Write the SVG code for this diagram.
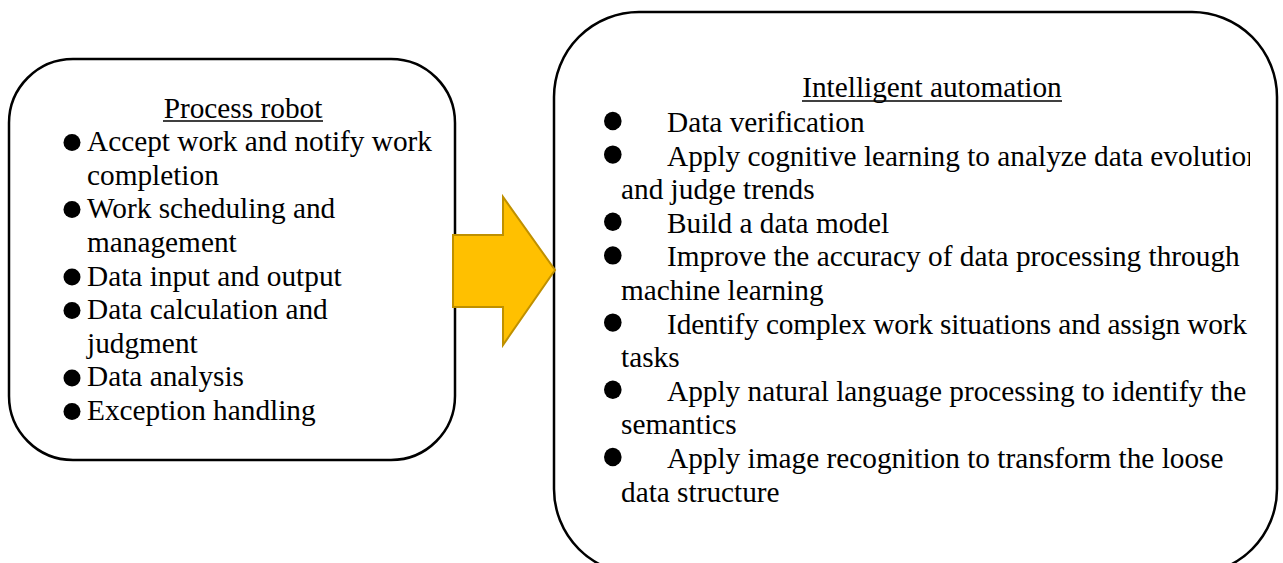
<svg xmlns="http://www.w3.org/2000/svg" width="1283" height="563" viewBox="0 0 1283 563">
<style>
.box{fill:#fff;stroke:#000;stroke-width:2.5}
.t{font-family:"Liberation Serif","Times New Roman",serif;font-size:29.3px;fill:#000}
.u{stroke:#000;stroke-width:1.6}
.b{fill:#000}
.arrow{fill:#FFC000;stroke:#BF9000;stroke-width:2}
</style>
<defs>
<clipPath id="rclip"><rect x="556" y="14" width="694" height="560"/></clipPath>
</defs>
<rect width="1283" height="563" fill="#fff"/>
<g id="process-robot">
<rect class="box" x="9" y="59" width="446" height="401" rx="64" ry="64"/>
<text class="t" x="243" y="117.6" text-anchor="middle">Process robot</text>
<line class="u" x1="163" y1="121" x2="323" y2="121"/>
<circle class="b" cx="72" cy="142.5" r="8.5"/>
<text class="t" x="87" y="151.2">Accept work and notify work</text>
<text class="t" x="87" y="184.8">completion</text>
<circle class="b" cx="72" cy="209.5" r="8.5"/>
<text class="t" x="87" y="218.4">Work scheduling and</text>
<text class="t" x="87" y="252">management</text>
<circle class="b" cx="72" cy="277" r="8.5"/>
<text class="t" x="87" y="285.6">Data input and output</text>
<circle class="b" cx="72" cy="310.5" r="8.5"/>
<text class="t" x="87" y="319.2">Data calculation and</text>
<text class="t" x="87" y="352.8">judgment</text>
<circle class="b" cx="72" cy="378" r="8.5"/>
<text class="t" x="87" y="386.4">Data analysis</text>
<circle class="b" cx="72" cy="411.5" r="8.5"/>
<text class="t" x="87" y="420">Exception handling</text>
</g>
<g id="intelligent-automation">
<rect class="box" x="554" y="12" width="723" height="562" rx="85" ry="85"/>
<g clip-path="url(#rclip)">
<text class="t" x="932" y="97" text-anchor="middle">Intelligent automation</text>
<line class="u" x1="802" y1="101" x2="1062" y2="101"/>
<ellipse class="b" cx="612.8" cy="121" rx="8.8" ry="9.2"/>
<text class="t" x="667" y="132">Data verification</text>
<ellipse class="b" cx="612.8" cy="154.6" rx="8.8" ry="9.2"/>
<text class="t" x="667" y="165.6">Apply cognitive learning to analyze data evolution</text>
<text class="t" x="621" y="199.2">and judge trends</text>
<ellipse class="b" cx="612.8" cy="221.8" rx="8.8" ry="9.2"/>
<text class="t" x="667" y="232.8">Build a data model</text>
<ellipse class="b" cx="612.8" cy="255.4" rx="8.8" ry="9.2"/>
<text class="t" x="667" y="266.4">Improve the accuracy of data processing through</text>
<text class="t" x="621" y="300">machine learning</text>
<ellipse class="b" cx="612.8" cy="322.6" rx="8.8" ry="9.2"/>
<text class="t" x="667" y="333.6" textLength="580" lengthAdjust="spacing">Identify complex work situations and assign work</text>
<text class="t" x="621" y="367.2">tasks</text>
<ellipse class="b" cx="612.8" cy="389.8" rx="8.8" ry="9.2"/>
<text class="t" x="667" y="400.8">Apply natural language processing to identify the</text>
<text class="t" x="621" y="434.4">semantics</text>
<ellipse class="b" cx="612.8" cy="457" rx="8.8" ry="9.2"/>
<text class="t" x="667" y="468">Apply image recognition to transform the loose</text>
<text class="t" x="621" y="501.6">data structure</text>
</g>
</g>
<g id="connectors">
<polygon class="arrow" points="453,235 503,235 503,197 555,270 503,345 503,307 453,307"/>
</g>
</svg>
